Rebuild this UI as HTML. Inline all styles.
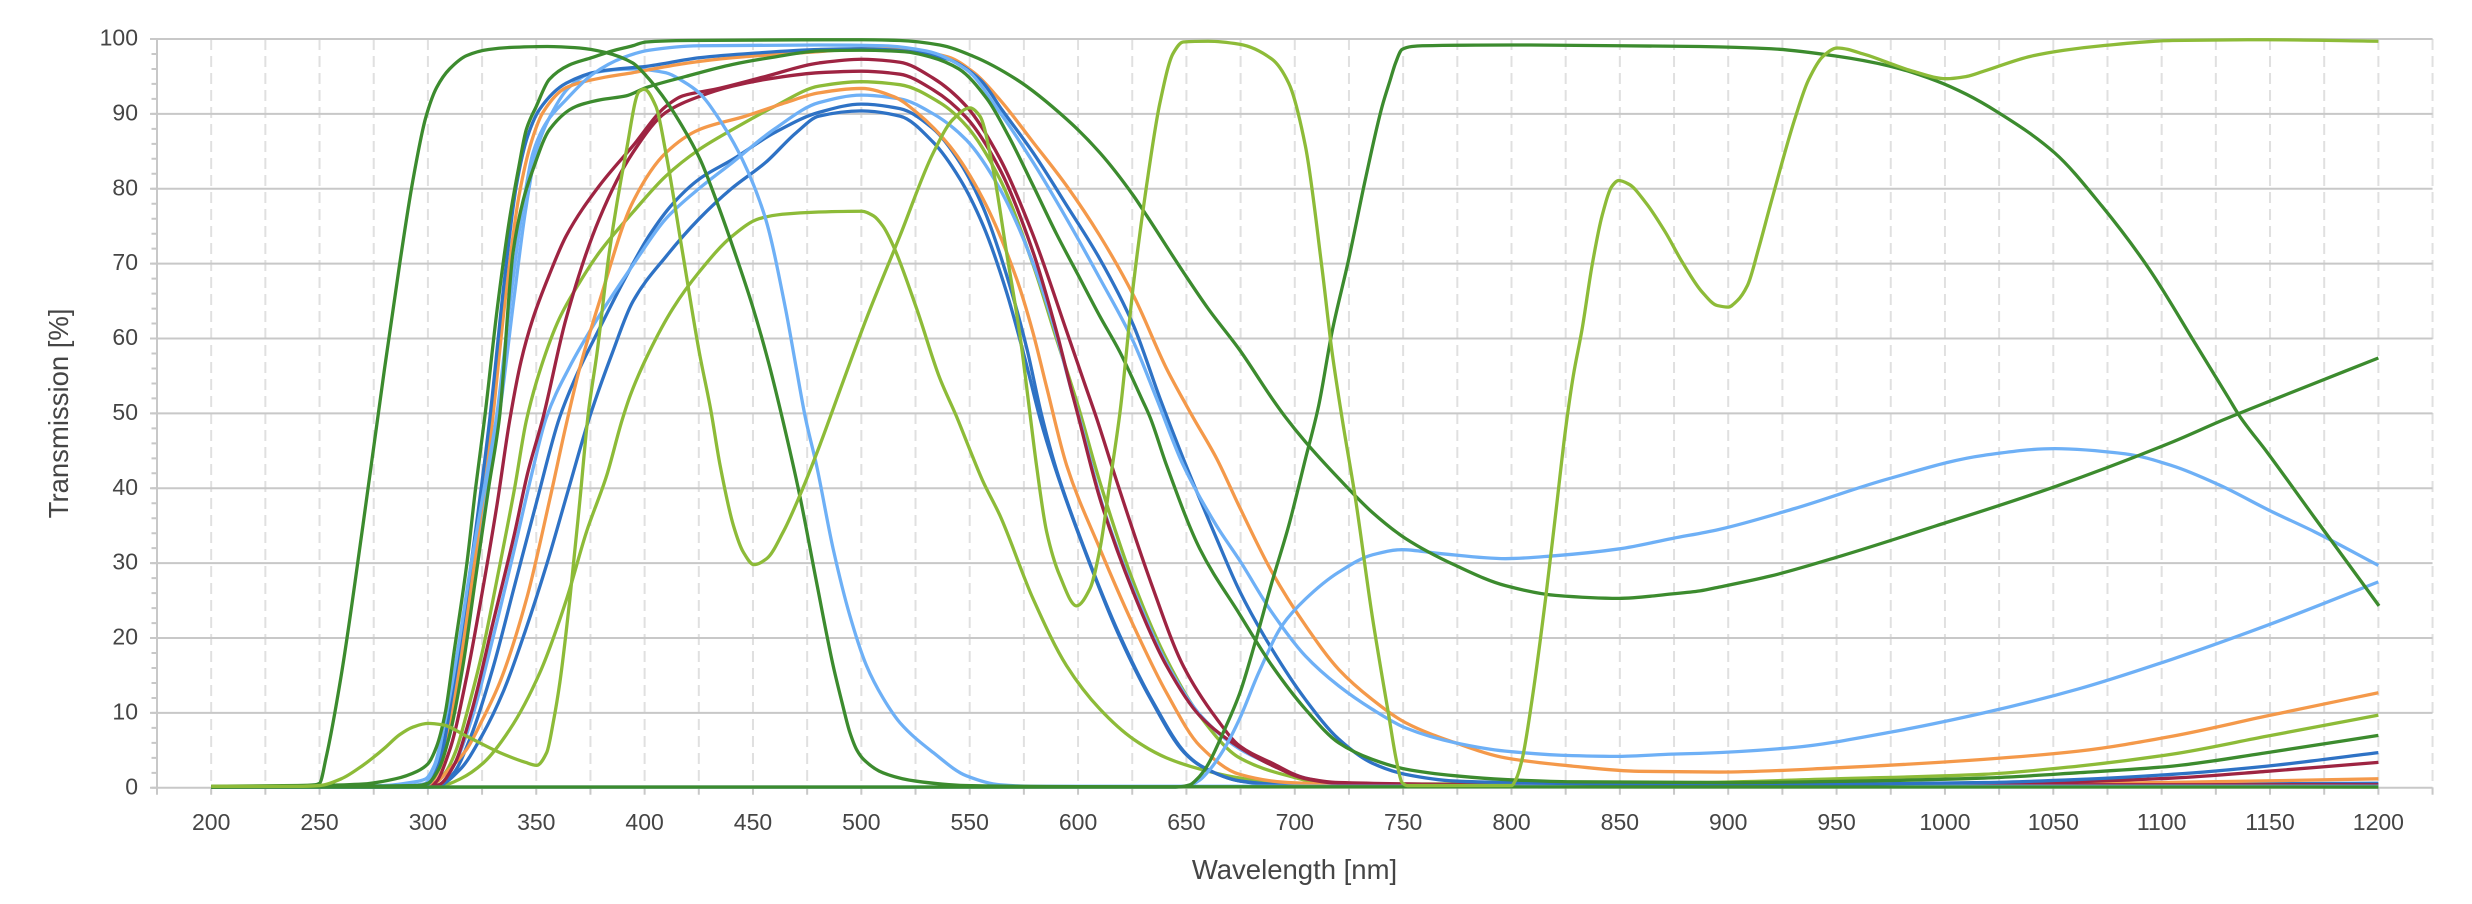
<!DOCTYPE html>
<html>
<head>
<meta charset="utf-8">
<style>
  html, body { margin:0; padding:0; background:#ffffff; }
  body { width:2472px; height:904px; overflow:hidden; }
  svg { display:block; }
  .lbl { font-family:"Liberation Sans", Arial, sans-serif; font-size:23px; fill:#454545; }
  .ttl { font-family:"Liberation Sans", Arial, sans-serif; font-size:27.5px; fill:#454545; }
  #curves polyline, #curves path { fill:none; stroke-width:3.3; vector-effect:non-scaling-stroke; stroke-linejoin:round; }
</style>
</head>
<body>
<svg width="2472" height="904" viewBox="0 0 2472 904" xmlns="http://www.w3.org/2000/svg">
  <rect x="0" y="0" width="2472" height="904" fill="#ffffff"/>

  <!-- vertical dashed grid -->
  <path fill="none" stroke="#e0e0e0" stroke-width="2" stroke-dasharray="11 6"
    d="M211.18 39V787.8M265.36 39V787.8M319.54 39V787.8M373.72 39V787.8M427.90 39V787.8M482.08 39V787.8M536.26 39V787.8M590.44 39V787.8M644.62 39V787.8M698.80 39V787.8M752.98 39V787.8M807.16 39V787.8M861.34 39V787.8M915.52 39V787.8M969.70 39V787.8M1023.88 39V787.8M1078.06 39V787.8M1132.24 39V787.8M1186.42 39V787.8M1240.60 39V787.8M1294.78 39V787.8M1348.96 39V787.8M1403.14 39V787.8M1457.32 39V787.8M1511.50 39V787.8M1565.68 39V787.8M1619.86 39V787.8M1674.04 39V787.8M1728.22 39V787.8M1782.40 39V787.8M1836.58 39V787.8M1890.76 39V787.8M1944.94 39V787.8M1999.12 39V787.8M2053.30 39V787.8M2107.48 39V787.8M2161.66 39V787.8M2215.84 39V787.8M2270.02 39V787.8M2324.20 39V787.8M2378.38 39V787.8M2432.56 39V787.8"/>

  <!-- horizontal grid -->
  <path fill="none" stroke="#c8c8c8" stroke-width="2"
    d="M150 39H2432.56M150 113.88H2432.56M150 188.76H2432.56M150 263.64H2432.56M150 338.52H2432.56M150 413.4H2432.56M150 488.28H2432.56M150 563.16H2432.56M150 638.04H2432.56M150 712.92H2432.56M150 787.8H2432.56"/>

  <!-- y axis line -->
  <line x1="157" y1="39" x2="157" y2="788.8" stroke="#c8c8c8" stroke-width="2"/>
  <!-- y minor ticks (every 2 units) -->
  <line x1="154.25" y1="788.8" x2="154.25" y2="38" stroke="#c8c8c8" stroke-width="5.5" stroke-dasharray="2 12.976"/>
  <!-- x ticks (every 25 nm) -->
  <line x1="156" y1="791.3" x2="2434" y2="791.3" stroke="#c8c8c8" stroke-width="7" stroke-dasharray="2 52.18"/>

  <!-- y labels -->
  <g class="lbl" text-anchor="end">
    <text x="138" y="45.5">100</text>
    <text x="138" y="120.4">90</text>
    <text x="138" y="195.3">80</text>
    <text x="138" y="270.1">70</text>
    <text x="138" y="345.0">60</text>
    <text x="138" y="419.9">50</text>
    <text x="138" y="494.8">40</text>
    <text x="138" y="569.7">30</text>
    <text x="138" y="644.5">20</text>
    <text x="138" y="719.4">10</text>
    <text x="138" y="794.3">0</text>
  </g>

  <!-- x labels -->
  <g class="lbl" text-anchor="middle">
    <text x="211.18" y="830">200</text>
    <text x="319.54" y="830">250</text>
    <text x="427.90" y="830">300</text>
    <text x="536.26" y="830">350</text>
    <text x="644.62" y="830">400</text>
    <text x="752.98" y="830">450</text>
    <text x="861.34" y="830">500</text>
    <text x="969.70" y="830">550</text>
    <text x="1078.06" y="830">600</text>
    <text x="1186.42" y="830">650</text>
    <text x="1294.78" y="830">700</text>
    <text x="1403.14" y="830">750</text>
    <text x="1511.50" y="830">800</text>
    <text x="1619.86" y="830">850</text>
    <text x="1728.22" y="830">900</text>
    <text x="1836.58" y="830">950</text>
    <text x="1944.94" y="830">1000</text>
    <text x="2053.30" y="830">1050</text>
    <text x="2161.66" y="830">1100</text>
    <text x="2270.02" y="830">1150</text>
    <text x="2378.38" y="830">1200</text>
  </g>

  <!-- axis titles -->
  <text class="ttl" x="1294.5" y="879" text-anchor="middle">Wavelength [nm]</text>
  <text class="ttl" x="0" y="0" text-anchor="middle" transform="translate(68,413.4) rotate(-90)">Transmission [%]</text>

  <!-- curves in data coordinates -->
  <g id="curves" transform="matrix(2.1672 0 0 -7.488 -222.26 787.8)">
    <!-- light green 77 plateau -->
    <polyline stroke="#8dbb38" points="200,0.1 300,0.1 307,0.3 315,1.2 325.5,3.3 337.8,7.8 351.7,15.4 364,25.2 373.2,34.2 382.5,41.7 389.5,49 393.5,52.5 402.1,58.2 413,64 425.2,68.9 440.5,73.7 452.8,76 463.5,76.6 480.4,76.9 500.2,77 505.5,76.4 510,75 514.7,72.4 525.5,64 536.2,54.7 543.9,49.6 550,45.2 556,41 563.9,36.4 579.3,25.2 594.7,16.3 610.1,10.5 625.5,6.5 640.8,4 656.2,2.5 674.7,1.3 700,0.5 750,0.3 1200,0.2"/>
    <!-- light green mid -->
    <polyline stroke="#8dbb38" points="200,0.1 298,0.2 303,0.6 308,2 313,5 318,10 325,18 332,28 340,40 345.4,49 352,56 360.7,62.7 370,67.5 379.1,71.5 395,77 409.8,81.7 425,85.2 440.5,87.9 460,91 480.4,93.7 500,94.3 517.8,93.9 536.2,91.5 548.5,88.4 563.9,81.3 579.3,69.8 590,60 600,51 610.1,40.8 625.5,27.5 640.8,17.2 656.2,9.6 674.5,4 697,1.6 712.6,0.7 750,0.5 850,0.6 887,0.7 950,1.2 1018,1.8 1061.6,2.9 1105,4.5 1148.7,6.9 1200,9.7"/>
    <!-- blue 3 -->
    <polyline stroke="#2e72c5" points="200,0.1 300,0.1 305,0.3 315,2.5 325,7 335,13 345,21 355,30 365,40 374.5,49.4 385,58 394.5,64.9 410,71 425.2,76 440,80 455.8,83.5 470,87.5 480.4,89.7 500,90.4 517.8,89.7 533.2,86.2 545.5,81.3 556.2,75.1 567,66.2 576.2,56.5 582.4,49.4 589,43.1 602.8,31.9 618.2,20.8 633.6,11.8 649,4.7 656.7,2.9 674.7,0.9 697,0.3 1200,0.3"/>
    <!-- blue 2 -->
    <polyline stroke="#2e72c5" points="200,0.1 300,0.1 305,0.2 312,2 320,7 330,16 340,27 350,38 360.7,49.4 370,56 379.1,61.3 390,67.5 402,73.7 413,78 425.2,81.3 440.5,83.9 460,87.5 480.4,90.2 500,91.3 517.8,90.7 533.2,88 545.5,83.5 556.2,77.5 567,68.5 576.5,58.5 583,50 590,42.5 603.5,31.5 619,20.5 634.5,11.5 650,4.5 657.5,2.8 675,0.9 697,0.4 1000,0.4 1100,0.5 1200,0.6"/>
    <!-- light blue slow -->
    <polyline stroke="#6eb0f6" points="200,0.1 300,0.2 305,0.4 312,3 320,9 330,20 340,32 348,42 354.6,49.4 365,56 379,63 395,70 409.8,76 425,80 440.5,83.5 460,88 480.4,91.5 500,92.5 517.8,92 533.2,90 548.5,86.5 563.9,80 579.3,70 590,60.5 597,53 600.5,49.5 611,38 626.5,25.8 642,16 657,9.5 674.5,5.2 690,3 705,1.3 720,0.6 800,0.3 1200,0.3"/>
    <!-- orange 2 -->
    <polyline stroke="#f4994a" points="200,0.1 298,0.2 303,0.6 310,2.5 317.8,5.1 325,9 333.2,14.1 345.5,25.2 356.3,38.6 363.8,48.5 370,56 379.1,64.9 394.5,78.2 409.8,84.8 425.2,87.9 446.6,89.7 465,91.5 480.4,92.8 500,93.4 515,92.3 525.5,90.2 540.8,85.7 556.2,78.6 571.6,68 579,61 585.5,53.5 594.7,43.1 610.1,31.9 625.5,21.7 640.8,12.7 656.2,5.6 674.5,1.8 697,0.7 750,0.3 900,0.3 1000,0.4 1100,0.7 1200,1.2"/>
    <!-- dark red 2 -->
    <polyline stroke="#9e2442" points="200,0.1 300,0.2 305,0.4 312,3 320,10 330,22 340,34 346,42 353.1,49.4 363.8,62.7 379.1,76 394.5,84.8 409.8,90.2 425,92.3 440.5,93.7 460,94.8 480.4,95.5 500,95.7 517.8,95.3 533.2,93.2 548.5,89.5 563.9,82.6 579.3,71.5 590,61 597,53 599.3,50.5 610.1,38.6 625.5,26.1 640.8,16.3 656.2,9.6 674.5,5.4 689.5,3 705,1.2 720,0.6 800,0.4 1200,0.4"/>
    <!-- dark red 1 -->
    <polyline stroke="#9e2442" points="200,0.1 298,0.2 303,0.6 310,5 318,15 325,26 332,38 337.7,49 343,57 348.5,62.7 356,68.5 363.8,73.7 379.1,80.4 394.5,85.7 409.8,91 417.5,92.4 432.8,93.3 455.8,95 480.4,96.8 500,97.3 517.8,96.9 533,94.8 548.5,91 564,84 579,74 594.7,61 603,54 608.5,49.4 618,40.8 633.5,27.5 648.5,16.3 664,9.2 674.5,5.6 689.5,3.3 704.9,1.3 720.3,0.7 800,0.4 950,0.3 1018,0.4 1061,0.8 1105,1.3 1148.7,2.2 1200,3.4"/>
    <!-- light blue UV -->
    <polyline stroke="#6eb0f6" points="200,0.1 285,0.2 298,0.5 303,2 308,7 314,16 321,29 327,40 333,50 340,66 345,77 350,85 357,90 365,93.5 376,95.5 394.5,96 409.8,95.5 418,94.3 425.2,92.8 434.4,89.3 445.1,83.9 455.8,76 465,64 470,56 474.2,49.4 479.3,43.1 487,31.9 494.7,23 502.4,16.3 510,12 517.8,8.7 533.2,4.7 548.5,1.6 563.9,0.4 580,0.2 1200,0.2"/>
    <!-- orange fast -->
    <polyline stroke="#f4994a" points="200,0.1 295,0.2 300,0.4 306,3 313,13 321,29 329,47 336,66 342,79 348,86.5 353.1,90.2 363.8,93.5 380,94.8 394.5,95.5 420,96.8 440.5,97.5 480,98.3 500,98.7 520,98.6 540,97.6 552,95.5 563.9,91.9 579.3,86.2 594.7,80.4 610.1,73.7 625.5,65.8 640.8,56 650.1,51 653.2,49.4 663.9,44 674.5,37.5 689.5,28.8 704.9,21.7 720.3,15.8 735.7,11.8 751.1,8.7 774.2,6 797.2,4 828,2.9 858.8,2.2 895.7,2.1 952.5,2.7 1017.9,3.8 1061.6,4.9 1105.1,6.9 1148.7,9.6 1200,12.7"/>
    <!-- blue fast -->
    <polyline stroke="#2e72c5" points="200,0.1 295,0.2 300,0.5 305,3 312,14 320,30 328.6,49.4 335,67 340.8,80.4 346,87 351.5,90.6 363.8,94.1 379.1,95.7 402.1,96.4 425.2,97.5 450,98.1 480.4,98.6 500,98.7 520,98.4 540,97.3 555,94.5 565,90.5 579.3,84.8 594.7,77.8 610.1,70.6 625.5,61.8 637.8,52 648.5,44 663.9,33.3 674.5,26.3 689.5,18.5 704.9,11.8 720.3,6.5 735.7,3.3 751.1,1.8 774.2,0.9 797,0.7 900,0.4 960,0.5 1018,0.7 1061,1.1 1105,1.8 1148.7,2.9 1200,4.7"/>
    <!-- light blue 99 -->
    <polyline stroke="#6eb0f6" points="200,0.1 280,0.3 292,0.7 299,1.2 303,3 308,9 313,17 320,30 326,40 331.6,49.4 338,65 343,76 348.5,84.8 355,89 363.8,91.9 376,95.3 390,97.5 402,98.5 425,99.1 480,99.2 510,99.1 530,98.4 548.5,95.9 563.9,90.2 579.3,83.5 594.7,76 610.1,68 625.5,59.6 636.2,52 648.5,43.1 663.9,35 674.5,30.4 689.5,23.4 704.9,17.6 720.3,13.6 735.7,10.5 751.1,8 774.2,6 797.2,4.9 828,4.3 849.5,4.2 874.2,4.5 887,4.6 930.7,5.4 974.3,7.4 1017.9,10 1061.6,13.2 1105.1,17.2 1148.7,21.7 1200,27.5"/>
    <!-- light blue longpass -->
    <polyline stroke="#6eb0f6" points="200,0.1 645,0.1 652,0.4 656,1 661,2.5 668,5.5 674.5,9.2 683.4,15.4 694.2,21.7 704.9,25.2 720.3,28.8 735.7,31.1 749.5,31.8 766.5,31.3 797.2,30.6 820.3,31 849.5,31.9 874.2,33.3 895.7,34.5 930.7,37.3 974.3,41.3 1017.9,44.4 1050.6,45.3 1083.3,44.6 1105,43 1126.9,40.4 1150,37 1170.5,34.2 1200,29.7"/>
    <!-- dark green 98 -->
    <polyline stroke="#3c8b2e" points="200,0.1 295,0.3 300,0.6 305,2.5 310,7 316,16 322,28 328,40 333,49.4 339.3,71.5 344,78.5 348.5,82.6 356.1,87.9 368.4,91 380,91.9 391.4,92.4 400.6,93.5 419,95 440.5,96.6 460,97.6 480.4,98.4 500,98.5 520,98.3 532,97.6 545,96 558,92 568,87 579.3,80.4 590,74 600,68.5 610,63 619.3,58.2 629.3,52 633.2,49.5 640.8,43.1 656.2,31.9 674.5,23.2 689.5,16.3 704.9,10.5 720.3,6 735.7,3.8 751.1,2.5 774.2,1.6 797.2,1.1 828,0.8 900,0.7 960,0.9 1018,1.3 1061,2 1105,2.9 1148.7,4.7 1200,7"/>
    <!-- dark green UV -->
    <polyline stroke="#3c8b2e" points="200,0.2 240,0.3 248,0.4 250,0.6 253,4 260,15 270,35 280,56 287,70 293,81 299,89.5 304,93.5 310,96 318,97.8 328,98.6 340,98.9 355,99 370,98.8 382,98.2 394.5,96.8 401,95 408,92.5 416,89 425.5,84 433,78.5 441,72 449.7,64.4 457,57 463.5,49.4 471.6,39 479.3,27.5 487,16.3 491,11.5 494.7,7.4 498,5 501,3.8 510,2 525,0.9 548,0.3 600,0.15 1200,0.1"/>
    <!-- dark green 99.8 -> 25 -> 57 -->
    <polyline stroke="#3c8b2e" points="200,0.1 250,0.3 270,0.5 285,1.2 295,2.2 300,3.2 304,5.5 308,10 312,18 318,30 322,40 326.2,49.4 332,64 337.7,76 342,83 345.4,87.9 350,91 356,94.6 365,96.5 375.5,97.5 385,98.4 394.5,99.1 400.6,99.6 420,99.8 500,99.9 517.8,99.8 536.2,99.2 551.6,97.7 571.6,94.6 594.7,89.3 610.1,84.8 625.5,79.1 631.7,76.4 648.5,68.9 660,64 674.5,58.5 689.5,52 695.7,49.5 704.9,46.2 720.3,41.3 735.7,36.8 751.1,33.3 774.2,29.7 797.2,27 820.3,25.7 849.5,25.3 874.2,25.9 887,26.3 895.7,26.8 919.8,28.3 952.5,31 996.1,35 1050.6,40.2 1105.1,46.2 1129,49.2 1153,52 1200,57.4"/>
    <!-- dark green longpass -->
    <polyline stroke="#3c8b2e" points="200,0.1 645,0.1 651.6,0.4 655,1.2 659.3,2.8 667,7.4 674.7,12.7 681.7,19.4 689.5,27.5 697.2,35 704.9,43.9 711,51 717.2,60.9 724.9,70.6 732.6,81.3 740.3,91 744,94.5 746.5,96.8 749.5,98.6 754,99 758.8,99.1 800,99.2 850,99.1 887,99 919.8,98.7 950.3,97.7 974.3,96.4 996.1,94.4 1010,92.6 1024.5,90.2 1050.6,84.8 1072.4,77.7 1094.2,69.3 1116,59.1 1131,52 1135.6,49.8 1148.7,44.8 1170.5,36.1 1200.3,24.3"/>
    <!-- light green multi-band -->
    <polyline stroke="#8dbb38" points="200,0.2 240,0.2 250,0.3 260,1.2 270,3 275,4.1 280,5.3 287,7.1 293,8.1 300,8.6 307,8.4 317.8,6.9 333.2,4.7 345,3.4 350.2,3.0 354.8,4.7 358,9 360.9,14.1 365.5,25.2 370.2,38.6 374,50 378,58 383.7,71.5 391.4,84.8 397.5,93 399.8,93.3 405.2,91 409.8,84.8 417.5,71.5 425.2,58.2 430.5,50.5 434.8,43.1 441,35 445.5,31.5 450.5,29.8 456.3,30.6 464,34.2 471.7,39.1 480.9,45.8 490,53 502.4,62.7 517.8,73.7 533.2,84.8 542.4,89.3 550.1,90.8 554.7,89.7 560.8,82.6 567,71.5 573.2,60.4 578,49.5 580.8,43.1 585.5,34.2 591.6,28.3 599.3,24.3 605.5,26.6 610.1,31.9 614.7,40.8 619.5,50.5 625.5,67.1 631.6,80.4 637.8,91.5 643.9,98.1 648.5,99.6 660,99.7 674.5,99.3 689.5,97.3 697.2,94.1 704.9,85.7 712.6,69.3 717.2,58.2 721.8,49.4 728,38.6 735.7,23 743.4,9.6 747,3.5 749.5,0.7 752,0.3 800,0.3 802,1.1 804.9,3.8 809.5,11.8 815.7,25.2 820.3,36.4 825,48 828.5,55 832.6,61.3 837.2,69.8 841.8,76.4 846.5,80.4 849.5,81.1 854.2,80.6 861.8,78.2 871,74.2 878.8,70.2 888,66.2 895,64.4 900,64.2 904,65 908.9,67.1 914,72 919.8,78.2 930.7,89.3 937,94.5 943.8,97.7 950.3,98.8 963.4,97.9 975,96.7 985.2,95.7 1000.5,94.7 1010,95 1017.9,95.7 1039.7,97.7 1055,98.5 1072.4,99.1 1105,99.8 1148.7,99.9 1200,99.7"/>
  </g>
</svg>
<script>
(function(){
  var NS = 'http://www.w3.org/2000/svg';
  var pls = document.querySelectorAll('#curves polyline');
  for (var k = 0; k < pls.length; k++) {
    var pl = pls[k];
    var raw = pl.getAttribute('points').trim().split(/\s+/);
    var xs = [], ys = [];
    for (var i = 0; i < raw.length; i++) { var p = raw[i].split(','); xs.push(+p[0]); ys.push(+p[1]); }
    var n = xs.length; if (n < 3) continue;
    var d = [], m = new Array(n);
    for (var i = 0; i < n - 1; i++) d.push((ys[i+1] - ys[i]) / (xs[i+1] - xs[i]));
    m[0] = d[0]; m[n-1] = d[n-2];
    for (var i = 1; i < n - 1; i++) {
      if (d[i-1] * d[i] <= 0) { m[i] = 0; }
      else {
        var h0 = xs[i] - xs[i-1], h1 = xs[i+1] - xs[i];
        var w1 = 2*h1 + h0, w2 = h1 + 2*h0;
        m[i] = (w1 + w2) / (w1 / d[i-1] + w2 / d[i]);
      }
    }
    var s = 'M' + xs[0] + ',' + ys[0];
    for (var i = 0; i < n - 1; i++) {
      var h = xs[i+1] - xs[i];
      s += ' C' + (xs[i] + h/3).toFixed(3) + ',' + (ys[i] + m[i]*h/3).toFixed(3) + ' ' +
           (xs[i+1] - h/3).toFixed(3) + ',' + (ys[i+1] - m[i+1]*h/3).toFixed(3) + ' ' +
           xs[i+1] + ',' + ys[i+1];
    }
    var path = document.createElementNS(NS, 'path');
    path.setAttribute('d', s);
    path.setAttribute('stroke', pl.getAttribute('stroke'));
    path.setAttribute('fill', 'none');
    path.setAttribute('vector-effect', 'non-scaling-stroke');
    path.setAttribute('stroke-width', '3.3');
    path.setAttribute('stroke-linejoin', 'round');
    pl.parentNode.replaceChild(path, pl);
  }
})();
</script>
</body>
</html>
